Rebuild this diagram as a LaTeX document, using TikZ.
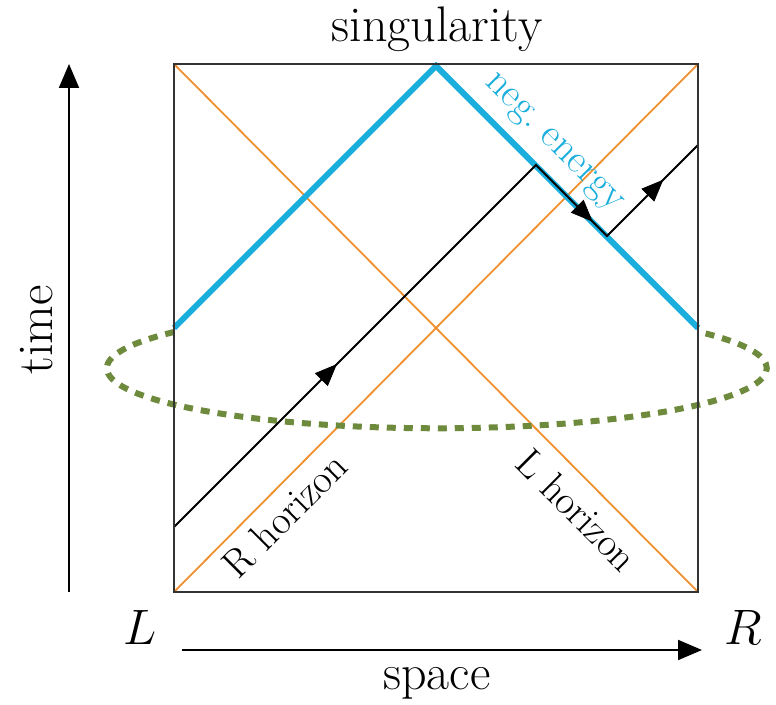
\documentclass[tikz,border=0pt]{standalone}
\usetikzlibrary{arrows.meta,decorations.markings}
\definecolor{horange}{HTML}{F0902E}
\definecolor{negblue}{HTML}{1AAEDC}
\definecolor{olivegreen}{HTML}{6E8A3C}
\begin{document}
\begin{tikzpicture}[x=0.5pt,y=-0.5pt,
  frame/.style={draw=black!80, line width=1.2pt},
  hor/.style={draw=horange, line width=0.9pt},
  neg/.style={draw=negblue, line width=3pt, line join=miter},
  ray/.style={draw=black, line width=1pt},
  midarrow/.style={postaction={decorate}, decoration={markings,
     mark=at position #1 with {\arrow{Triangle[length=11pt,width=9pt]}}}},
  axis/.style={draw=black, line width=1pt, -{Triangle[length=12pt,width=10pt]}},
  bigtext/.style={font=\fontsize{25}{30}\selectfont, inner sep=0pt},
  midtext/.style={font=\fontsize{20}{24}\selectfont, inner sep=0pt},
  shell/.style={draw=olivegreen, line width=3pt, dash pattern=on 4.5pt off 4pt}]
\useasboundingbox (0,0) rectangle (776,705);
\coordinate (tl) at (174,64);
\coordinate (tr) at (698,64);
\coordinate (bl) at (174,592);
\coordinate (br) at (698,592);
\coordinate (nl) at (174,328);
\coordinate (apex) at (436,66);
\coordinate (nr) at (698,328);
\coordinate (ra) at (174,527);
\coordinate (rb) at (536,165);
\coordinate (rc) at (607,236);
\coordinate (rd) at (698,145);
\coordinate (shellstart) at (174,332);
% horizons
\draw[hor] (bl) -- (tr);
\draw[hor] (tl) -- (br);
% shell (front part only)
\draw[shell] (shellstart) arc[start angle=142.8, end angle=397.2, x radius=165pt, y radius=30pt];
% negative energy
\draw[neg] (nl) -- (apex) -- (nr);
% ray
\draw[ray, line join=miter] (ra) -- (rb) -- (rc) -- (rd);
\path[midarrow=0.45] (ra) -- (rb);
\path[midarrow=0.8] (rb) -- (rc);
\path[midarrow=0.62] (rc) -- (rd);
% frame
\draw[frame] (tl) rectangle (br);
% axes
\coordinate (t0) at (69,592);
\coordinate (t1) at (69,64);
\coordinate (s0) at (182,650);
\coordinate (s1) at (702,650);
\draw[axis] (t0) -- (t1);
\draw[axis] (s0) -- (s1);
% labels
\node[bigtext] (sing) at (437,29) {singularity};
\node[bigtext] (space) at (437,683) {space};
\node[bigtext, rotate=90] (time) at (37,330) {time};
\node[bigtext] (L) at (140,627) {$L$};
\node[bigtext] (R) at (743,627) {$R$};
\node[midtext, rotate=45] (rh) at (285,515) {R horizon};
\node[midtext, rotate=-45] (lh) at (577,510) {L horizon};
\node[midtext, rotate=-45, text=negblue] (ne) at (552,144) {neg.\ energy};
\end{tikzpicture}
\end{document}
